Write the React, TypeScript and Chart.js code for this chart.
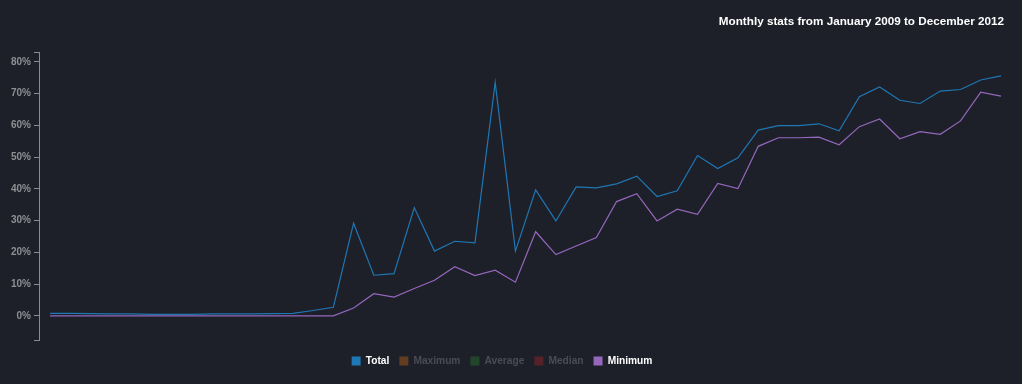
import React, { useEffect, useRef } from "react";
import { Chart, registerables } from "chart.js";

Chart.register(...registerables);

const years = [2009, 2010, 2011, 2012];
const monthNames = ["Jan", "Feb", "Mar", "Apr", "May", "Jun", "Jul", "Aug", "Sep", "Oct", "Nov", "Dec"];
const categories: string[] = years.flatMap((y) => monthNames.map((m) => `${m} ${y}`));

const totalValues = [
  0.8, 0.8, 0.7, 0.6, 0.6, 0.5, 0.5, 0.5, 0.6, 0.6, 0.6, 0.7, 0.8, 1.7, 2.7,
  29.2, 12.8, 13.3, 34.1, 20.4, 23.5, 23.0, 73.5, 20.4, 39.7, 29.9, 40.6, 40.3,
  41.6, 44.0, 37.6, 39.4, 50.5, 46.4, 49.8, 58.5, 59.9, 59.9, 60.5, 58.3, 69.0,
  72.1, 67.9, 66.9, 70.8, 71.3, 74.3, 75.6,
];
const maximumValues: number[] = [];
const averageValues: number[] = [];
const medianValues: number[] = [];
const minimumValues = [
  0, 0, 0, 0, 0, 0, 0, 0, 0, 0, 0, 0, 0, 0, 0,
  2.5, 7.0, 5.9, 8.6, 11.2, 15.5, 12.7, 14.4, 10.6, 26.5, 19.3, 22.0, 24.7,
  36.0, 38.5, 29.9, 33.6, 32.0, 41.7, 40.1, 53.4, 56.1, 56.1, 56.3, 53.9, 59.6,
  62.0, 55.8, 58.0, 57.2, 61.4, 70.5, 69.2,
];

const yTickValues = [0, 10, 20, 30, 40, 50, 60, 70, 80];
const yMin = -7.6;
const yMax = 83.1;

const seriesNames = ["Total", "Maximum", "Average", "Median", "Minimum"];
const seriesColors = ["#1f77b4", "#ff7f0e", "#2ca02c", "#d62728", "#9467bd"];
const seriesHidden = [false, true, true, true, false];
const seriesValues = [totalValues, maximumValues, averageValues, medianValues, minimumValues];

const BG = "#1e2029";
const FONT = "'Liberation Sans', Arial, Helvetica, sans-serif";

function dim(hex: string, a: number): string {
  const r = parseInt(hex.slice(1, 3), 16);
  const g = parseInt(hex.slice(3, 5), 16);
  const b = parseInt(hex.slice(5, 7), 16);
  const br = 30, bg = 32, bb = 41;
  const mix = (c: number, d: number) => Math.round(c * a + d * (1 - a));
  return `rgb(${mix(r, br)},${mix(g, bg)},${mix(b, bb)})`;
}

export default function App() {
  const ref = useRef<HTMLCanvasElement | null>(null);

  useEffect(() => {
    document.body.style.margin = "0";
    document.body.style.background = BG;
    const canvas = ref.current;
    if (!canvas) return;
    const datasets = seriesNames.map((name, k) => ({
      label: name,
      data: seriesValues[k].map((v, i) => ({ x: i, y: v })),
      borderColor: seriesColors[k],
      backgroundColor: seriesColors[k],
      borderWidth: 1.2,
      pointRadius: 0,
      pointHoverRadius: 0,
      tension: 0,
      fill: false,
      hidden: seriesHidden[k],
    }));
    const chart = new Chart(canvas, {
      type: "line",
      data: { labels: categories, datasets },
      options: {
        animation: false,
        responsive: false,
        devicePixelRatio: 1,
        layout: { padding: { left: 0, right: 18, top: 0, bottom: 8 } },
        plugins: {
          tooltip: { enabled: false },
          title: {
            display: true,
            text: "Monthly stats from January 2009 to December 2012",
            align: "end",
            color: "#ffffff",
            font: { family: FONT, size: 11.7, weight: "bold" },
            padding: { top: 15, bottom: 23 },
          },
          legend: {
            display: true,
            position: "bottom",
            align: "center",
            onClick: () => {},
            labels: {
              boxWidth: 9,
              boxHeight: 9,
              padding: 10,
              font: { family: FONT, size: 10.2, weight: "bold" },
              generateLabels: () =>
                seriesNames.map((name, k) => {
                  const fill = seriesHidden[k] ? dim(seriesColors[k], 0.3) : seriesColors[k];
                  return {
                    text: name,
                    fillStyle: fill,
                    strokeStyle: fill,
                    lineWidth: 0,
                    hidden: false,
                    datasetIndex: k,
                    fontColor: seriesHidden[k] ? "#4a4c55" : "#ffffff",
                  } as any;
                }),
            },
          },
        },
        scales: {
          x: {
            type: "linear",
            min: -0.55,
            max: 47.15,
            display: true,
            ticks: { display: false },
            grid: { display: false },
            border: { display: false },
            afterFit: (scale: any) => {
              scale.height = 5.8;
            },
          },
          y: {
            type: "linear",
            min: yMin,
            max: yMax,
            afterBuildTicks: (scale: any) => {
              scale.ticks = [yMin, ...yTickValues, yMax].map((v) => ({ value: v }));
            },
            afterFit: (scale: any) => {
              scale.width = 39;
            },
            ticks: {
              color: "#8e8f94",
              padding: 3,
              font: { family: FONT, size: 10, weight: "bold" },
              callback: (v: any) => (yTickValues.includes(Number(v)) ? `${v}%` : ""),
            },
            grid: {
              display: true,
              drawOnChartArea: false,
              drawTicks: true,
              tickLength: 5,
              color: "#8a8b90",
            },
            border: { display: true, color: "#8a8b90" },
          },
        },
      },
    });
    return () => chart.destroy();
  }, []);

  return (
    <div style={{ width: 1022, height: 384, background: BG }}>
      <canvas ref={ref} width={1022} height={384} />
    </div>
  );
}
